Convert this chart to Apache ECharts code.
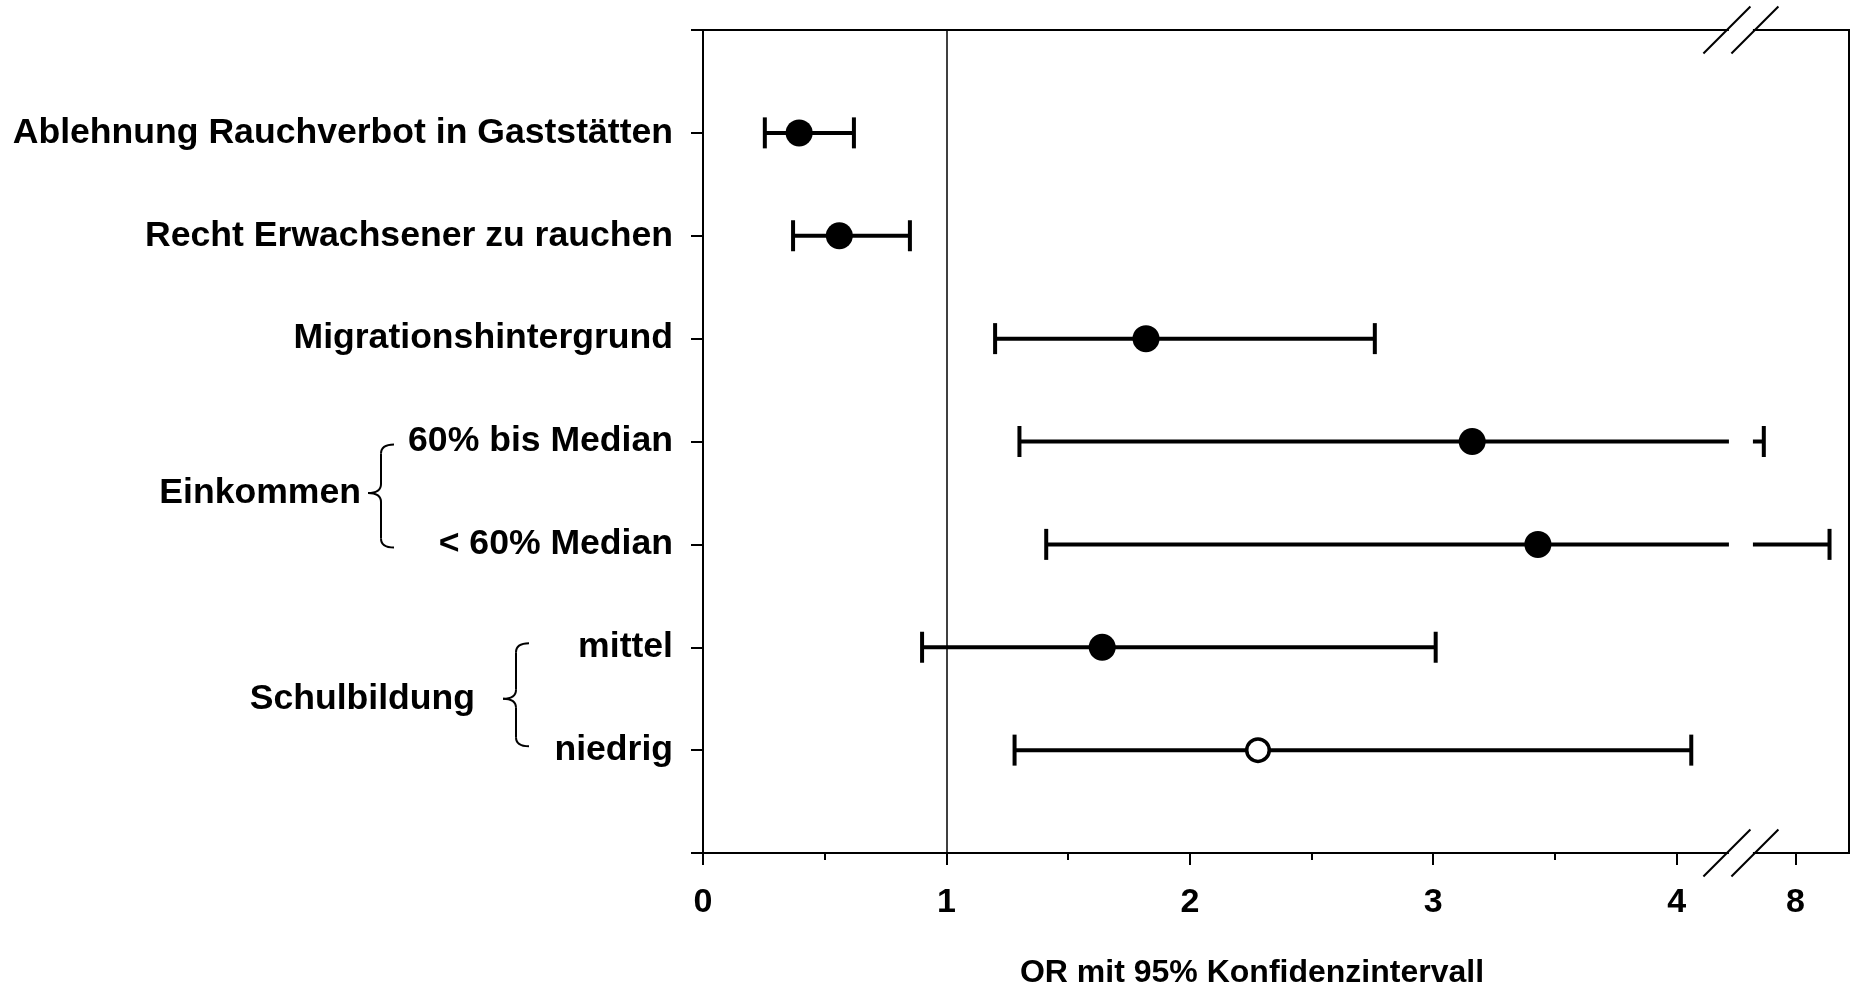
<!DOCTYPE html>
<html><head><meta charset="utf-8">
<script src="https://cdn.jsdelivr.net/npm/echarts@6/dist/echarts.min.js"></script>
<style>html,body{margin:0;padding:0;background:#fff}#c{width:1856px;height:989px}</style>
</head><body><div id="c"></div>
<script>
const rowLabels = ['Ablehnung Rauchverbot in Gaststätten','Recht Erwachsener zu rauchen','Migrationshintergrund','60% bis Median','< 60% Median','mittel','niedrig'];
const oddsRatio = [0.395, 0.56, 1.82, 3.16, 3.43, 1.64, 2.28];
const ciLower   = [0.254, 0.37, 1.20, 1.30, 1.41, 0.90, 1.28];
const ciUpper   = [0.62, 0.85, 2.76, 7.87, 8.14, 3.01, 4.06];
const hollow    = [false, false, false, false, false, false, true];
const xTickValues = [0, 1, 2, 3, 4, 8];
const xMinorTickValues = [0.5, 1.5, 2.5, 3.5];
const groupLabels = ['Einkommen', 'Schulbildung'];
const groupRows = [[4, 5], [6, 7]];
const axisTitle = 'OR mit 95% Konfidenzintervall';
const refValue = 1;
const breakRange = [4.22, 7.82];

(function () {
const FONT = "'Liberation Sans', Arial, Helvetica, sans-serif";
const chart = echarts.init(document.getElementById('c'), null, {renderer: 'canvas'});

const gridPos = {left: 703, right: 7, top: 30, bottom: 136};
const xBase = {
  type: 'value', min: 0, max: 8.22, position: 'bottom',
  breaks: [{start: breakRange[0], end: breakRange[1], gap: 0.088}],
  breakArea: {show: false},
  splitLine: {show: false}
};

const option = {
  animation: false,
  backgroundColor: '#fff',
  grid: [
    Object.assign({show: true, borderColor: '#000', borderWidth: 2, backgroundColor: 'transparent'}, gridPos),
    Object.assign({show: false}, gridPos)
  ],
  xAxis: [
    Object.assign({}, xBase, {
      gridIndex: 0,
      axisLine: {show: true, onZero: false, lineStyle: {color: '#000', width: 2}},
      axisTick: {show: true, customValues: xTickValues, length: 12, lineStyle: {color: '#000', width: 2}},
      axisLabel: {show: true, customValues: xTickValues, margin: 33, color: '#000', fontSize: 34, fontWeight: 'bold', fontFamily: FONT}
    }),
    Object.assign({}, xBase, {
      gridIndex: 1,
      axisLine: {show: false, onZero: false},
      axisTick: {show: true, customValues: xMinorTickValues, length: 7, lineStyle: {color: '#000', width: 2}},
      axisLabel: {show: false}
    })
  ],
  yAxis: [
    {
      gridIndex: 0,
      type: 'value', min: 0, max: 8, interval: 1, inverse: true,
      splitLine: {show: false},
      axisLine: {show: true, onZero: false, lineStyle: {color: '#000', width: 2}},
      axisTick: {show: true, length: 12, lineStyle: {color: '#000', width: 2}},
      axisLabel: {
        margin: 30, color: '#000', fontSize: 35.6, fontWeight: 'bold', fontFamily: FONT,
        formatter: v => rowLabels[v - 1] || ''
      }
    },
    {gridIndex: 1, type: 'value', min: 0, max: 8, show: false}
  ],
  series: [
    {
      type: 'custom', xAxisIndex: 0, yAxisIndex: 0,
      data: rowLabels.map((_, i) => [i + 1, ciLower[i], ciUpper[i]]),
      encode: {x: [1, 2], y: 0},
      renderItem(params, api) {
        const y = api.value(0);
        const p1 = api.coord([api.value(1), y]);
        const p2 = api.coord([api.value(2), y]);
        const h = 15.5;
        const st = {stroke: '#000', lineWidth: 4};
        return {type: 'group', children: [
          {type: 'line', shape: {x1: p1[0], y1: p1[1], x2: p2[0], y2: p2[1]}, style: st},
          {type: 'line', shape: {x1: p1[0], y1: p1[1] - h, x2: p1[0], y2: p1[1] + h}, style: st},
          {type: 'line', shape: {x1: p2[0], y1: p2[1] - h, x2: p2[0], y2: p2[1] + h}, style: st}
        ]};
      },
      z: 3
    },
    {
      type: 'scatter', xAxisIndex: 0, yAxisIndex: 0, symbol: 'circle', symbolSize: 27,
      itemStyle: {color: '#000', opacity: 1},
      data: oddsRatio.map((v, i) => hollow[i] ? null : [v, i + 1]).filter(d => d),
      markLine: {
        silent: true, symbol: 'none', label: {show: false},
        lineStyle: {color: '#000', width: 1.5, type: 'solid'},
        data: [{xAxis: refValue}]
      },
      z: 4
    },
    {
      type: 'scatter', xAxisIndex: 0, yAxisIndex: 0, symbol: 'circle', symbolSize: 22.5,
      itemStyle: {color: '#fff', borderColor: '#000', borderWidth: 3.5, opacity: 1},
      data: oddsRatio.map((v, i) => hollow[i] ? [v, i + 1] : null).filter(d => d),
      z: 4
    }
  ]
};
chart.setOption(option);

// decorations: axis break marks, group braces, axis title
const px = v => chart.convertToPixel({xAxisIndex: 0}, v);
const py = v => chart.convertToPixel({yAxisIndex: 0}, v);
const yTop = py(0), yBottom = py(8);
const gc = (px(breakRange[0]) + px(breakRange[1])) / 2;
const graphics = [];
const stroke2 = {stroke: '#000', lineWidth: 2, fill: null};
graphics.push({type: 'rect', z: 100, shape: {x: gc - 12, y: yTop - 4, width: 24, height: yBottom - yTop + 8}, style: {fill: '#fff'}});
[yTop, yBottom].forEach(yy => {
  [gc - 14, gc + 14].forEach(cx => {
    graphics.push({type: 'line', z: 101, shape: {x1: cx - 23.5, y1: yy + 23.5, x2: cx + 23.5, y2: yy - 23.5}, style: stroke2});
  });
});
function bez(x1, y1, cx, cy, x2, y2) {
  return {type: 'bezierCurve', z: 50, shape: {x1, y1, x2, y2, cpx1: cx, cpy1: cy}, style: stroke2};
}
function seg(x1, y1, x2, y2) {
  return {type: 'line', z: 50, shape: {x1, y1, x2, y2}, style: stroke2};
}
const braceX = [[394, 381, 368], [529, 516, 503]];
const textRight = [361, 475];
groupLabels.forEach((lab, k) => {
  const [ra, rb] = groupRows[k];
  const y1 = py(ra) + (k === 0 ? 3 : -4);
  const y2 = py(rb) + (k === 0 ? 3 : -4);
  const ym = (py(ra) + py(rb)) / 2;
  const [xr, xl, xt] = braceX[k];
  const r = 9;
  graphics.push(bez(xr, y1, xl, y1, xl, y1 + r));
  graphics.push(seg(xl, y1 + r, xl, ym - r));
  graphics.push(bez(xl, ym - r, xl, ym, xt, ym));
  graphics.push(bez(xt, ym, xl, ym, xl, ym + r));
  graphics.push(seg(xl, ym + r, xl, y2 - r));
  graphics.push(bez(xl, y2 - r, xl, y2, xr, y2));
  graphics.push({type: 'text', z: 50, x: textRight[k], y: ym, style: {text: lab, fill: '#000', font: `bold 35.6px ${FONT}`, textAlign: 'right', textVerticalAlign: 'middle'}});
});
graphics.push({type: 'text', z: 50, x: 1252, y: 973, style: {text: axisTitle, fill: '#000', font: `bold 32px ${FONT}`, textAlign: 'center', textVerticalAlign: 'middle'}});
chart.setOption({graphic: graphics});
})();
</script>
</body></html>
